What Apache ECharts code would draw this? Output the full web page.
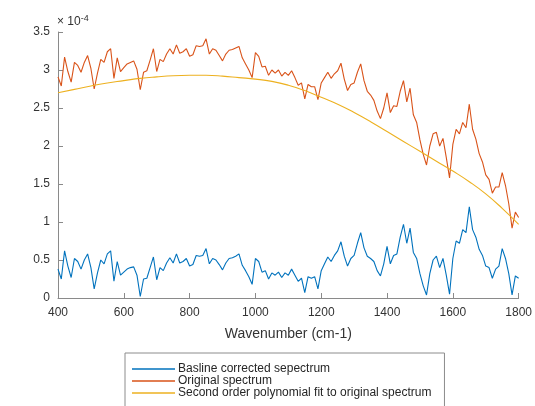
<!DOCTYPE html>
<html>
<head>
<meta charset="utf-8">
<script src="https://cdn.jsdelivr.net/npm/echarts@6/dist/echarts.min.js"></script>
<style>
  html, body { margin: 0; padding: 0; background: #fff; }
  #chart { width: 535px; height: 406px; }
</style>
</head>
<body>
<div id="chart"></div>
<script>
// wavenumbers (cm-1), 10 cm-1 steps
var wavenumber = [400,410,420,430,440,450,460,470,480,490,500,510,520,530,540,550,560,570,580,590,
    600,610,620,630,640,650,660,670,680,690,700,710,720,730,740,750,760,770,780,790,
    800,810,820,830,840,850,860,870,880,890,900,910,920,930,940,950,960,970,980,990,
    1000,1010,1020,1030,1040,1050,1060,1070,1080,1090,1100,1110,1120,1130,1140,1150,1160,1170,1180,1190,
    1200,1210,1220,1230,1240,1250,1260,1270,1280,1290,1300,1310,1320,1330,1340,1350,1360,1370,1380,1390,
    1400,1410,1420,1430,1440,1450,1460,1470,1480,1490,1500,1510,1520,1530,1540,1550,1560,1570,1580,1590,
    1600,1610,1620,1630,1640,1650,1660,1670,1680,1690,1700,1710,1720,1730,1740,1750,1760,1770,1780,1790,
    1800];

// values in units of 1e-4
var corrected = [.38,.25,.62,.42,.27,.52,.48,.38,.50,.58,.40,.12,.33,.50,.45,.58,.62,.22,.48,.30,
    .34,.38,.40,.41,.30,.02,.25,.26,.40,.54,.24,.40,.36,.46,.53,.46,.58,.46,.48,.52,
    .42,.44,.56,.55,.56,.65,.45,.52,.50,.44,.37,.46,.52,.53,.55,.58,.43,.36,.28,.18,
    .52,.48,.34,.36,.25,.33,.30,.34,.27,.33,.30,.38,.30,.22,.26,.07,.28,.26,.28,.12,
    .36,.45,.54,.48,.56,.62,.74,.55,.42,.52,.56,.72,.86,.66,.55,.52,.48,.36,.29,.45,
    .68,.45,.56,.58,.80,.97,.72,.92,.60,.52,.32,.16,.04,.32,.50,.55,.40,.52,.30,.05,
    .52,.75,.72,.90,.86,1.20,.90,.80,.64,.56,.42,.40,.26,.38,.42,.65,.52,.32,.04,.29,
    .26];

var original = [2.91,2.79,3.17,2.98,2.84,3.10,3.06,2.97,3.10,3.19,3.02,2.75,2.96,3.14,3.10,3.24,3.28,2.89,3.16,2.98,
    3.03,3.08,3.10,3.12,3.01,2.74,2.97,2.99,3.13,3.28,2.98,3.14,3.11,3.21,3.28,3.21,3.33,3.22,3.24,3.28,
    3.18,3.20,3.32,3.31,3.32,3.41,3.21,3.28,3.26,3.19,3.12,3.21,3.26,3.27,3.29,3.31,3.16,3.08,3.00,2.90,
    3.23,3.18,3.04,3.05,2.93,3.00,2.96,3.00,2.92,2.97,2.93,2.99,2.90,2.80,2.83,2.62,2.81,2.78,2.78,2.61,
    2.83,2.90,2.97,2.89,2.95,2.99,3.09,2.88,2.73,2.81,2.83,2.97,3.08,2.86,2.72,2.67,2.60,2.46,2.36,2.50,
    2.70,2.44,2.53,2.52,2.72,2.86,2.58,2.76,2.41,2.31,2.08,1.89,1.75,2.00,2.16,2.18,2.00,2.10,1.85,1.58,
    2.02,2.22,2.16,2.31,2.24,2.55,2.22,2.09,1.90,1.79,1.62,1.56,1.38,1.46,1.46,1.65,1.48,1.24,.92,1.13,
    1.06];

var fitX = [400,450,500,550,600,650,700,750,800,850,900,950,1000,1050,1100,1150,1200,1250,1300,1350,
    1400,1450,1500,1550,1600,1650,1700,1750,1800];
var fitY = [2.70,2.745,2.79,2.83,2.86,2.89,2.91,2.925,2.93,2.93,2.92,2.90,2.88,2.85,2.80,2.73,2.64,2.55,2.44,2.32,
    2.19,2.06,1.93,1.80,1.67,1.53,1.37,1.18,0.97];

var seriesNames = ['Basline corrected sepectrum', 'Original spectrum',
    'Second order polynomial fit to original spectrum'];
var colors = ['#0072BD', '#D95319', '#EDB120'];

function pairs(xs, ys) {
    var out = [];
    for (var i = 0; i < xs.length; i++) out.push([xs[i], ys[i]]);
    return out;
}

var font = 'Liberation Sans, Arial, sans-serif';
var axisColor = '#8a8a8a';
var textColor = '#333';

var chart = echarts.init(document.getElementById('chart'));
chart.setOption({
    animation: false,
    color: colors,
    grid: { left: 58, right: 15, top: 32, bottom: 108, containLabel: false },
    legend: {
        orient: 'vertical',
        left: 125,
        top: 353,
        height: 120,
        itemGap: 0,
        itemWidth: 43,
        itemHeight: 1.5,
        icon: 'rect',
        padding: [10, 13, 12, 7],
        borderColor: '#8c8c8c',
        borderWidth: 1,
        textStyle: { fontFamily: font, fontSize: 12, lineHeight: 12, color: '#262626', padding: [0, 0, 0, -2] },
        data: seriesNames
    },
    xAxis: {
        type: 'value',
        min: 400,
        max: 1800,
        interval: 200,
        name: 'Wavenumber (cm-1)',
        nameLocation: 'middle',
        nameGap: 29,
        nameTextStyle: { fontFamily: font, fontSize: 14, color: textColor },
        axisLine: { lineStyle: { color: axisColor } },
        axisTick: { inside: true, length: 5, lineStyle: { color: axisColor } },
        axisLabel: {
            fontFamily: font, fontSize: 12, color: textColor, margin: 9,
            formatter: function (v) { return String(v); }
        },
        splitLine: { show: false }
    },
    yAxis: {
        type: 'value',
        min: 0,
        max: 3.5,
        interval: 0.5,
        name: '{a|× 10}{b|-4}',
        nameLocation: 'end',
        nameGap: 3,
        nameTextStyle: {
            align: 'left',
            padding: [0, 0, 0, -1],
            rich: {
                a: { fontFamily: font, fontSize: 12, color: textColor },
                b: { fontFamily: font, fontSize: 9, color: textColor, verticalAlign: 'top', padding: [0, 0, 6, 0] }
            }
        },
        axisLine: { show: true, lineStyle: { color: axisColor } },
        axisTick: { show: true, inside: true, length: 5, lineStyle: { color: axisColor } },
        axisLabel: { fontFamily: font, fontSize: 12, color: textColor, margin: 8 },
        splitLine: { show: false }
    },
    series: [
        {
            name: seriesNames[0],
            type: 'line',
            data: pairs(wavenumber, corrected),
            showSymbol: false,
            lineStyle: { width: 1.1 }
        },
        {
            name: seriesNames[1],
            type: 'line',
            data: pairs(wavenumber, original),
            showSymbol: false,
            lineStyle: { width: 1.1 }
        },
        {
            name: seriesNames[2],
            type: 'line',
            data: pairs(fitX, fitY),
            showSymbol: false,
            smooth: true,
            lineStyle: { width: 1.1 }
        }
    ]
});
</script>
</body>
</html>
